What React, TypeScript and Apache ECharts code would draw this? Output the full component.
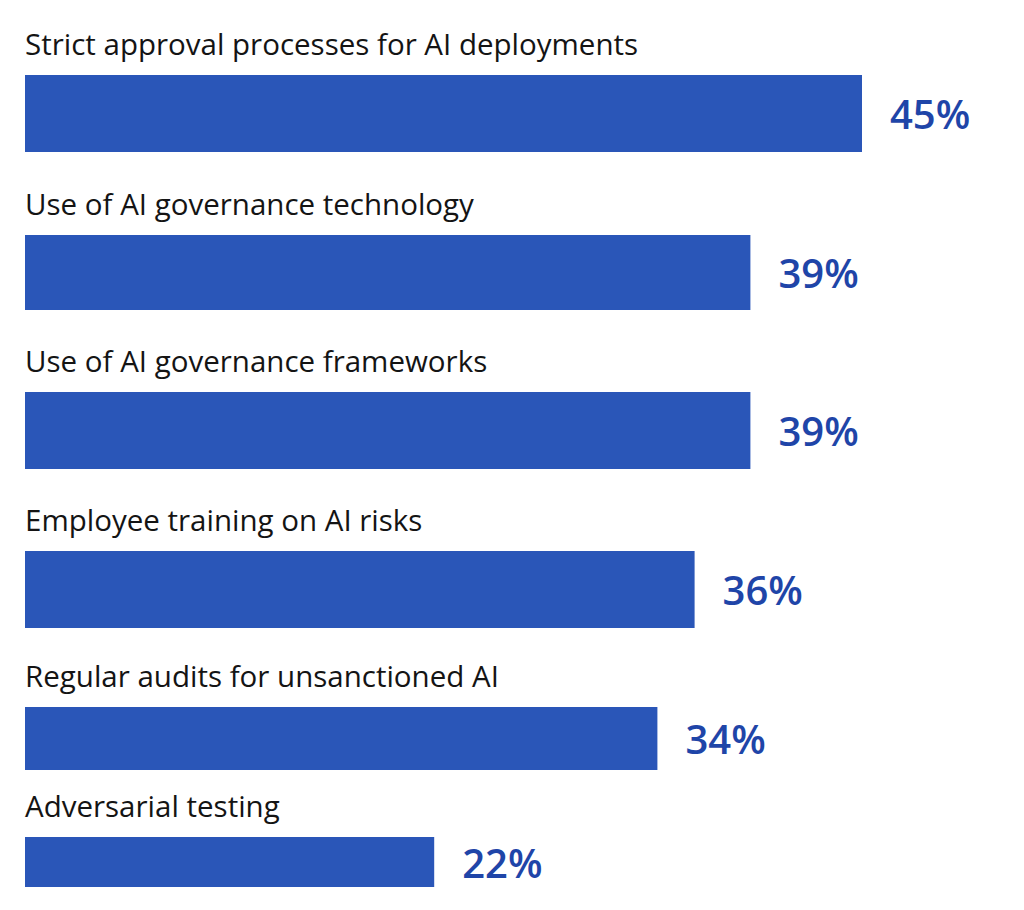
import React, { useEffect, useRef } from "react";
import * as echarts from "echarts";

const categories = [
  "Strict approval processes for AI deployments",
  "Use of AI governance technology",
  "Use of AI governance frameworks",
  "Employee training on AI risks",
  "Regular audits for unsanctioned AI",
  "Adversarial testing",
];
const values = [45, 39, 39, 36, 34, 22];

// layout (pixels)
const barTops = [75, 235, 392, 551, 707, 837];
const barHeights = [77, 75, 77, 77, 63, 50];
const LEFT = 25;
const AXIS_MAX = 50;
const GRID_WIDTH = 930;

export default function App() {
  const ref = useRef<HTMLDivElement>(null);
  useEffect(() => {
    document.body.style.margin = "0";
    const chart = echarts.init(ref.current!, undefined, { renderer: "svg" });
    const grids: any[] = [];
    const xAxes: any[] = [];
    const yAxes: any[] = [];
    const series: any[] = [];
    const graphics: any[] = [];
    categories.forEach((cat, i) => {
      grids.push({ left: LEFT, top: barTops[i], width: GRID_WIDTH, height: barHeights[i] });
      xAxes.push({ type: "value", gridIndex: i, min: 0, max: AXIS_MAX, show: false });
      yAxes.push({ type: "category", gridIndex: i, data: [cat], show: false });
      series.push({
        type: "bar",
        xAxisIndex: i,
        yAxisIndex: i,
        data: [values[i]],
        barWidth: "100%",
        itemStyle: { color: "#2a56b8" },
        label: {
          show: true,
          position: "right",
          distance: 28,
          formatter: "{c}%",
          fontFamily: "Open Sans",
          fontSize: 40,
          fontWeight: 600,
          color: "#1f45a8",
        },
      });
      graphics.push({
        type: "text",
        left: LEFT,
        top: barTops[i] - 47,
        style: {
          text: cat,
          fontFamily: "Open Sans",
          fontSize: 29.5,
          fill: "#141414",
        },
      });
    });
    chart.setOption({
      animation: false,
      backgroundColor: "#ffffff",
      grid: grids,
      xAxis: xAxes,
      yAxis: yAxes,
      series,
      graphic: graphics,
    });
    return () => chart.dispose();
  }, []);
  return <div ref={ref} style={{ width: 1024, height: 910 }} />;
}
